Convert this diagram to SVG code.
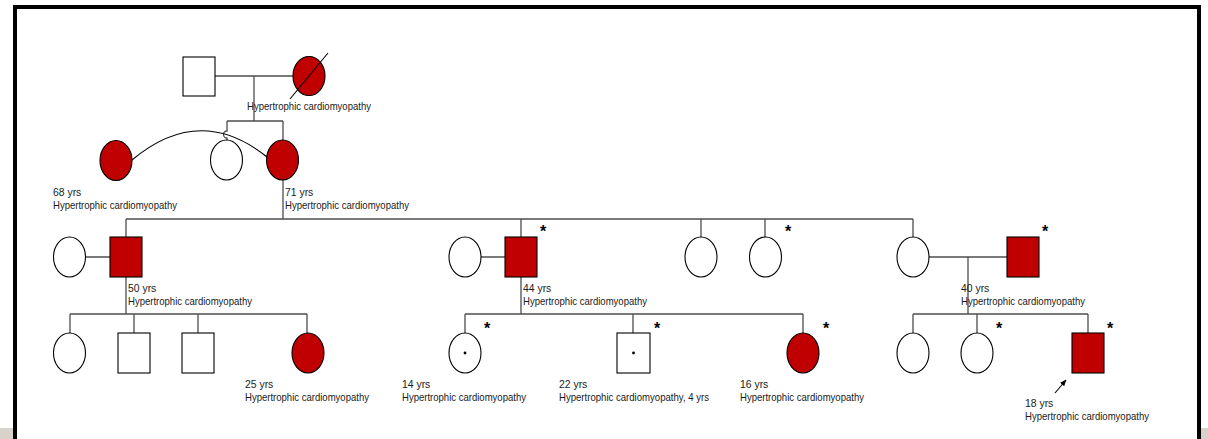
<svg xmlns="http://www.w3.org/2000/svg" width="1208" height="439" viewBox="0 0 1208 439">
<defs>
<style>
.n{stroke:#000;stroke-width:1.1;fill:#fff}
.a{fill:#c00000}
.c{stroke:#4d4d4d;stroke-width:1.3;fill:none}
.t{font-family:"Liberation Sans",Arial,sans-serif;font-size:10.4px;fill:#1a1a1a}
.s{font-family:"Liberation Sans",Arial,sans-serif;font-size:16px;font-weight:bold;fill:#000;text-anchor:middle}
</style>
<marker id="ah" viewBox="0 0 10 10" refX="9" refY="5" markerWidth="6" markerHeight="6" orient="auto">
<path d="M0 1 L10 5 L0 9 Z" fill="#000"/>
</marker>
</defs>
<rect width="1208" height="439" fill="#fff"/>
<rect x="0" y="428" width="13" height="11" fill="#d8d2cb"/>
<rect x="1201" y="428" width="7" height="11" fill="#d8d2cb"/>
<path d="M15 439 V7 H1199 V439" fill="none" stroke="#000" stroke-width="4"/>

<g id="connectors">
<path class="c" d="M215 76 H293"/>
<path class="c" d="M254 76 V121 M227 121 H283 M283 121 V140"/>
<path class="c" d="M227 121 V131 a3.5 3.5 0 0 0 0 7 V140"/>
<path stroke="#000" stroke-width="1.1" fill="none" d="M132 160 Q200 103 267 157"/>
<path class="c" d="M283 180 V219 M126 219 H913 M126 219 V237 M521 219 V237 M701 219 V237 M765 219 V237 M913 219 V237"/>
<path class="c" d="M86 257 H110 M126 277 V314 M70 314 H307 M70 314 V333 M134 314 V333 M198 314 V333 M307 314 V333"/>
<path class="c" d="M481 257 H505 M521 277 V314 M465 314 H803 M465 314 V333 M633 314 V333 M803 314 V333"/>
<path class="c" d="M929 257 H1007 M968 257 V314 M913 314 H1088 M913 314 V333 M977 314 V333 M1088 314 V333"/>
<line x1="1055" y1="393" x2="1066" y2="380" stroke="#000" stroke-width="1.1" marker-end="url(#ah)"/>
</g>

<g id="gen1-father"><rect class="n" x="183" y="57" width="32" height="39"/></g>
<g id="gen1-mother">
<ellipse class="n a" cx="309" cy="76" rx="16" ry="19.5"/>
<line x1="290" y1="99" x2="328" y2="53" stroke="#000" stroke-width="1.1"/>
<text class="t" x="247" y="110" textLength="124" lengthAdjust="spacingAndGlyphs">Hypertrophic cardiomyopathy</text>
</g>

<g id="gen2-aunt">
<ellipse class="n a" cx="116" cy="160.5" rx="16" ry="20"/>
<text class="t" x="53" y="195.5">68 yrs</text>
<text class="t" x="53" y="208.5" textLength="124" lengthAdjust="spacingAndGlyphs">Hypertrophic cardiomyopathy</text>
</g>
<g id="gen2-sister"><ellipse class="n" cx="226.5" cy="160" rx="16" ry="20"/></g>
<g id="gen2-grandmother">
<ellipse class="n a" cx="282.5" cy="160" rx="16" ry="20"/>
<text class="t" x="285" y="195.5">71 yrs</text>
<text class="t" x="285" y="208.5" textLength="124" lengthAdjust="spacingAndGlyphs">Hypertrophic cardiomyopathy</text>
</g>

<g id="gen3-wife1"><ellipse class="n" cx="69.5" cy="257" rx="16" ry="20"/></g>
<g id="gen3-son1">
<rect class="n a" x="110" y="237" width="32" height="40"/>
<text class="t" x="128" y="292">50 yrs</text>
<text class="t" x="128" y="305" textLength="124" lengthAdjust="spacingAndGlyphs">Hypertrophic cardiomyopathy</text>
</g>
<g id="gen3-wife2"><ellipse class="n" cx="465" cy="257" rx="16" ry="20"/></g>
<g id="gen3-son2">
<rect class="n a" x="505" y="237" width="32" height="40"/>
<text class="s" x="543" y="237">*</text>
<text class="t" x="523" y="292">44 yrs</text>
<text class="t" x="523" y="305" textLength="124" lengthAdjust="spacingAndGlyphs">Hypertrophic cardiomyopathy</text>
</g>
<g id="gen3-daughter1"><ellipse class="n" cx="701" cy="257" rx="16" ry="20"/></g>
<g id="gen3-daughter2">
<ellipse class="n" cx="765.5" cy="257" rx="16" ry="20"/>
<text class="s" x="788" y="237">*</text>
</g>
<g id="gen3-daughter3"><ellipse class="n" cx="913" cy="257" rx="16" ry="20"/></g>
<g id="gen3-husband">
<rect class="n a" x="1007" y="237" width="32" height="40"/>
<text class="s" x="1045" y="237">*</text>
<text class="t" x="961" y="292">40 yrs</text>
<text class="t" x="961" y="305" textLength="124" lengthAdjust="spacingAndGlyphs">Hypertrophic cardiomyopathy</text>
</g>

<g id="gen4-1"><ellipse class="n" cx="69.5" cy="353" rx="16" ry="20"/></g>
<g id="gen4-2"><rect class="n" x="118" y="333" width="32" height="40"/></g>
<g id="gen4-3"><rect class="n" x="182" y="333" width="32" height="40"/></g>
<g id="gen4-4">
<ellipse class="n a" cx="308" cy="353" rx="16" ry="20"/>
<text class="t" x="245" y="387.5">25 yrs</text>
<text class="t" x="245" y="400.5" textLength="124" lengthAdjust="spacingAndGlyphs">Hypertrophic cardiomyopathy</text>
</g>
<g id="gen4-5">
<ellipse class="n" cx="465" cy="353" rx="16" ry="20"/>
<circle cx="465" cy="353" r="1.4" fill="#000"/>
<text class="s" x="487" y="334">*</text>
<text class="t" x="402" y="387.5">14 yrs</text>
<text class="t" x="402" y="400.5" textLength="124" lengthAdjust="spacingAndGlyphs">Hypertrophic cardiomyopathy</text>
</g>
<g id="gen4-6">
<rect class="n" x="617" y="333" width="33" height="40"/>
<circle cx="633.5" cy="353" r="1.4" fill="#000"/>
<text class="s" x="657" y="334">*</text>
<text class="t" x="559" y="387.5">22 yrs</text>
<text class="t" x="559" y="400.5" textLength="150" lengthAdjust="spacingAndGlyphs">Hypertrophic cardiomyopathy, 4 yrs</text>
</g>
<g id="gen4-7">
<ellipse class="n a" cx="803" cy="353" rx="16" ry="20"/>
<text class="s" x="826" y="334">*</text>
<text class="t" x="740" y="387.5">16 yrs</text>
<text class="t" x="740" y="400.5" textLength="124" lengthAdjust="spacingAndGlyphs">Hypertrophic cardiomyopathy</text>
</g>
<g id="gen4-8"><ellipse class="n" cx="913" cy="353" rx="16" ry="20"/></g>
<g id="gen4-9">
<ellipse class="n" cx="977" cy="353" rx="16" ry="20"/>
<text class="s" x="999" y="334">*</text>
</g>
<g id="gen4-proband">
<rect class="n a" x="1072" y="333" width="32" height="40"/>
<text class="s" x="1110" y="334">*</text>
<text class="t" x="1025" y="407">18 yrs</text>
<text class="t" x="1025" y="420" textLength="124" lengthAdjust="spacingAndGlyphs">Hypertrophic cardiomyopathy</text>
</g>
</svg>
